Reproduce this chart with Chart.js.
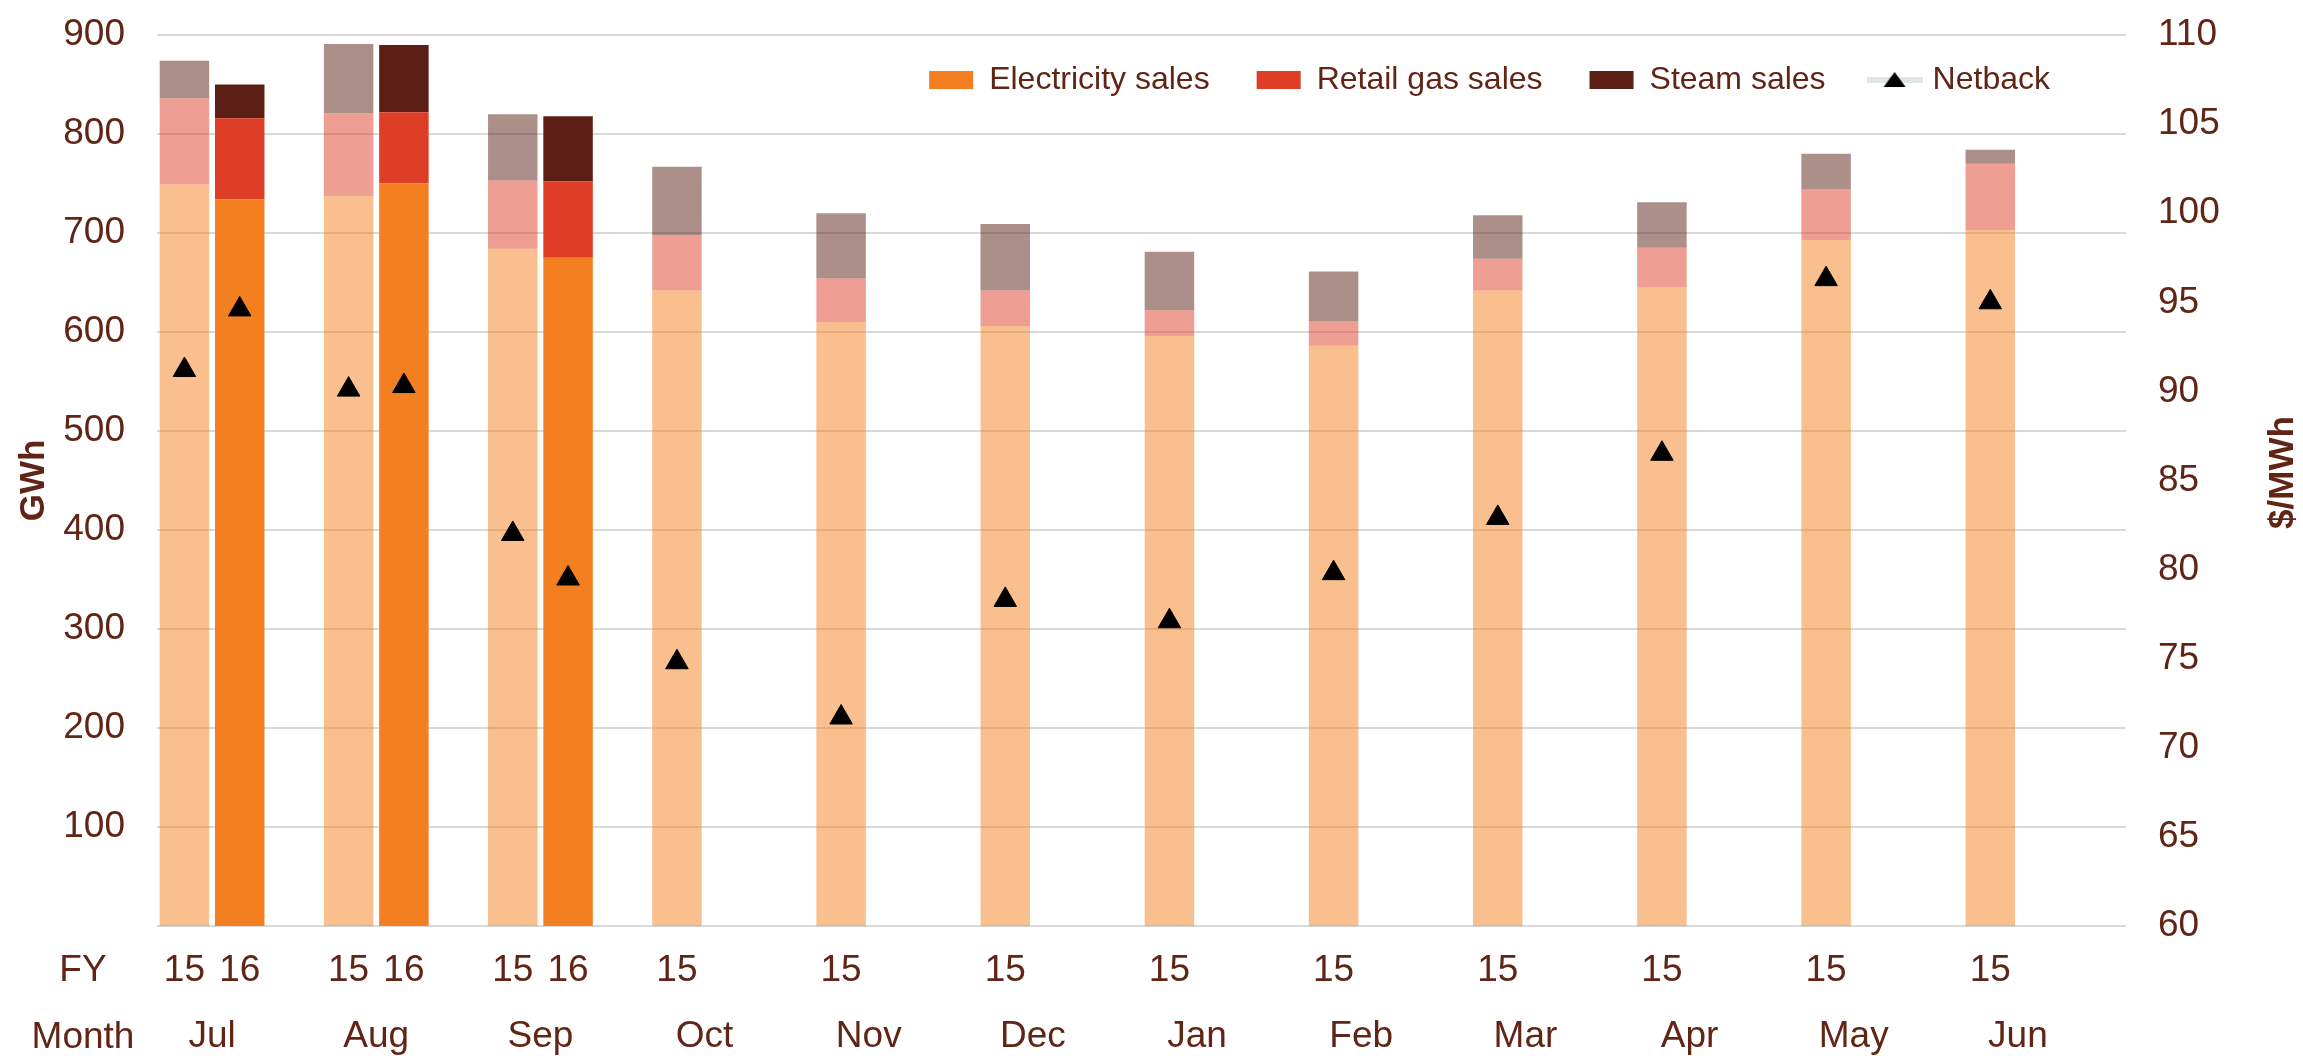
<!DOCTYPE html>
<html>
<head>
<meta charset="utf-8">
<script src="https://cdn.jsdelivr.net/npm/chart.js@4.4.1/dist/chart.umd.min.js"></script>
<style>
html,body{margin:0;padding:0;background:#ffffff;}
#wrap{width:2303px;height:1056px;position:relative;}
</style>
</head>
<body>
<div id="wrap"><canvas id="c" width="2303" height="1056"></canvas></div>
<script>
// ---------- data ----------
const months = ['Jul','Aug','Sep','Oct','Nov','Dec','Jan','Feb','Mar','Apr','May','Jun'];
const fyLabels = ['15', '16'];
const rowLabels = ['FY', 'Month'];
const seriesNames = ['Electricity sales', 'Retail gas sales', 'Steam sales', 'Netback'];
const axisTitles = ['GWh', '$/MWh'];
const gwhTicks = [0, 900, 100];     // min, max, step
const priceTicks = [60, 110, 5];    // min, max, step

const elec15  = [749, 737, 684, 642, 610, 606, 596, 586, 642, 645, 693, 703];
const gas15   = [ 87,  84,  69,  56,  44,  36,  26,  25,  32,  40,  51,  67];
const steam15 = [ 38,  70,  67,  69,  66,  67,  59,  50,  44,  46,  36,  14];
const elec16  = [734, 750, 675, null, null, null, null, null, null, null, null, null];
const gas16   = [ 82,  72,  77, null, null, null, null, null, null, null, null, null];
const steam16 = [ 34,  68,  66, null, null, null, null, null, null, null, null, null];
const netback15 = [91.2, 90.1, 82.0, 74.8, 71.7, 78.3, 77.1, 79.8, 82.9, 86.5, 96.3, 95.0];
const netback16 = [94.6, 90.3, 79.5, null, null, null, null, null, null, null, null, null];

// ---------- styles ----------
const FONT = "'Liberation Sans', Arial, Helvetica, sans-serif";
const TXT = '#612516';
const GRID = '#d9d9d9';
const C_ELEC = '#F47F20', C_GAS = '#DE3E25', C_STEAM = '#5C1F16';
const C_ELEC_L = 'rgba(244,127,32,0.5)', C_GAS_L = 'rgba(222,62,37,0.5)', C_STEAM_L = 'rgba(92,31,22,0.5)';
const PLOT_TOP = 35;
const TICK_SIZE = 37;

Chart.defaults.font.family = FONT;
Chart.defaults.color = TXT;

// legend icon for Netback (light line with black triangle)
const netIcon = document.createElement('canvas');
netIcon.width = 56; netIcon.height = 22;
(function(){
  const g = netIcon.getContext('2d');
  g.fillStyle = '#dfe7e3';
  g.fillRect(0, 8, 56, 6);
  g.fillStyle = '#000';
  g.beginPath(); g.moveTo(28, 3); g.lineTo(39, 18); g.lineTo(17, 18); g.closePath(); g.fill();
})();

const barCommon = { categoryPercentage: 0.6736, barPercentage: 0.895, borderWidth: 0, pointStyle: 'rect', order: 1 };
const lineCommon = { type: 'line', yAxisID: 'y2', showLine: false, pointStyle: 'triangle',
  pointRadius: 13, pointHoverRadius: 13, backgroundColor: '#000', borderColor: '#000', pointBorderWidth: 1, order: 0 };

const datasets = [
  Object.assign({ label: seriesNames[0], data: elec15,  backgroundColor: C_ELEC_L,  stack: 'FY15', fy: 0 }, barCommon),
  Object.assign({ label: seriesNames[1], data: gas15,   backgroundColor: C_GAS_L,   stack: 'FY15' }, barCommon),
  Object.assign({ label: seriesNames[2], data: steam15, backgroundColor: C_STEAM_L, stack: 'FY15' }, barCommon),
  Object.assign({ label: seriesNames[0], data: elec16,  backgroundColor: C_ELEC,    stack: 'FY16', fy: 1, inLegend: true }, barCommon),
  Object.assign({ label: seriesNames[1], data: gas16,   backgroundColor: C_GAS,     stack: 'FY16', inLegend: true }, barCommon),
  Object.assign({ label: seriesNames[2], data: steam16, backgroundColor: C_STEAM,   stack: 'FY16', inLegend: true }, barCommon),
  Object.assign({ label: seriesNames[3], data: netback15, alignStack: 'FY15', inLegend: true }, lineCommon),
  Object.assign({ label: seriesNames[3], data: netback16, alignStack: 'FY16' }, lineCommon)
];

// put Netback markers over the bar of their fiscal year (x taken from the bar elements)
const alignNetback = {
  id: 'alignNetback',
  afterDatasetsUpdate(chart) {
    chart.data.datasets.forEach((ds, li) => {
      if (!ds.alignStack) return;
      const bi = chart.data.datasets.findIndex(d => d.stack === ds.alignStack && d.fy !== undefined);
      const lm = chart.getDatasetMeta(li), bm = chart.getDatasetMeta(bi);
      lm.data.forEach((pt, j) => { if (bm.data[j]) pt.x = bm.data[j].x; });
    });
  }
};

// horizontal gridlines (slightly wider than the category band, as in the original)
const gridLines = {
  id: 'gridLines',
  beforeDatasetsDraw(chart) {
    const { ctx, chartArea } = chart;
    const ys = chart.scales.y;
    ctx.save();
    ctx.strokeStyle = GRID;
    ctx.lineWidth = 2;
    ys.ticks.forEach(t => {
      const py = Math.round(ys.getPixelForValue(t.value));
      ctx.beginPath();
      ctx.moveTo(chartArea.left + 27, py);
      ctx.lineTo(chartArea.right + 26, py);
      ctx.stroke();
    });
    ctx.restore();
  }
};

// place the (horizontal) legend inside the top of the plot area, right aligned
const legendPlace = {
  id: 'legendPlace',
  afterLayout(chart) {
    const lg = chart.legend;
    if (!lg) return;
    const h = lg.height;
    const pad = lg.options.labels.padding;
    lg.top = chart.chartArea.top + 45 - 16 - pad;
    lg.bottom = lg.top + h;
    lg.left = chart.chartArea.left;
    lg.right = chart.chartArea.right - 3;
  }
};

// FY row, row captions and right axis title
const extraText = {
  id: 'extraText',
  afterDraw(chart) {
    const { ctx, chartArea } = chart;
    ctx.save();
    ctx.fillStyle = TXT;
    ctx.font = TICK_SIZE + 'px ' + FONT;
    ctx.textAlign = 'center';
    ctx.textBaseline = 'middle';
    const fyY = chartArea.bottom + 45;
    const monthY = chartArea.bottom + 112;
    chart.data.datasets.forEach((ds, i) => {
      if (ds.fy === undefined) return;
      const meta = chart.getDatasetMeta(i);
      ds.data.forEach((v, j) => {
        if (v === null || v === undefined) return;
        ctx.fillText(fyLabels[ds.fy], meta.data[j].x, fyY);
      });
    });
    ctx.fillText(rowLabels[0], 83, fyY);
    ctx.fillText(rowLabels[1], 83, monthY);
    // right axis title, reading bottom-to-top
    ctx.font = 'bold 35px ' + FONT;
    ctx.translate(2283, (chartArea.top + chartArea.bottom) / 2 - 8);
    ctx.rotate(-Math.PI / 2);
    ctx.fillText(axisTitles[1], 0, 0);
    ctx.restore();
  }
};

const chart = new Chart(document.getElementById('c'), {
  type: 'bar',
  data: { labels: months, datasets },
  plugins: [alignNetback, gridLines, legendPlace, extraText],
  options: {
    responsive: false,
    animation: false,
    devicePixelRatio: 1,
    layout: { padding: { top: 0, left: 0, right: 0, bottom: 0 } },
    plugins: {
      tooltip: { enabled: true },
      legend: {
        position: 'top',
        align: 'end',
        labels: {
          usePointStyle: true,
          pointStyleWidth: 44,
          boxHeight: 18,
          padding: 47,
          color: TXT,
          font: { size: 32, family: FONT },
          generateLabels(chart) {
            const items = Chart.defaults.plugins.legend.labels.generateLabels(chart);
            return items
              .filter(it => chart.data.datasets[it.datasetIndex].inLegend)
              .sort((a, b) => a.datasetIndex - b.datasetIndex)
              .map(it => {
                it.pointStyle = chart.data.datasets[it.datasetIndex].type === 'line' ? netIcon : 'rect';
                it.lineWidth = 0;
                return it;
              });
          }
        }
      }
    },
    scales: {
      x: {
        stacked: true,
        grid: { display: false, drawTicks: false },
        border: { display: false },
        ticks: { color: TXT, font: { size: TICK_SIZE }, padding: 89, maxRotation: 0, autoSkip: false },
        afterFit(s) { s.height = 130; }
      },
      y: {
        stacked: true,
        position: 'left',
        min: gwhTicks[0], max: gwhTicks[1],
        grid: { display: false, drawTicks: false },
        border: { display: false },
        ticks: { stepSize: gwhTicks[2], color: TXT, font: { size: TICK_SIZE }, padding: 5,
                 callback: v => (v === 0 ? '' : v) },
        title: { display: true, text: axisTitles[0], color: TXT, font: { size: 35, weight: 'bold' },
                 padding: { top: 13, bottom: 0 } },
        afterFit(s) { s.width = 130; s.paddingTop = Math.min(s.paddingTop, 23); s.paddingBottom = Math.min(s.paddingBottom, 23); }
      },
      y2: {
        position: 'right',
        min: priceTicks[0], max: priceTicks[1],
        grid: { display: false, drawTicks: false },
        border: { display: false },
        ticks: { stepSize: priceTicks[2], color: TXT, font: { size: TICK_SIZE }, padding: 58 },
        afterFit(s) { s.width = 203; s.paddingTop = Math.min(s.paddingTop, 23); s.paddingBottom = Math.min(s.paddingBottom, 23); }
      }
    }
  }
});

// calibrate the top of the plot area so the 900 / 110 line sits where it does in the original
for (let k = 0; k < 4; k++) {
  const d = PLOT_TOP - chart.chartArea.top;
  if (Math.abs(d) < 0.5) break;
  chart.options.layout.padding.top += d;
  chart.update();
}
</script>
</body>
</html>
